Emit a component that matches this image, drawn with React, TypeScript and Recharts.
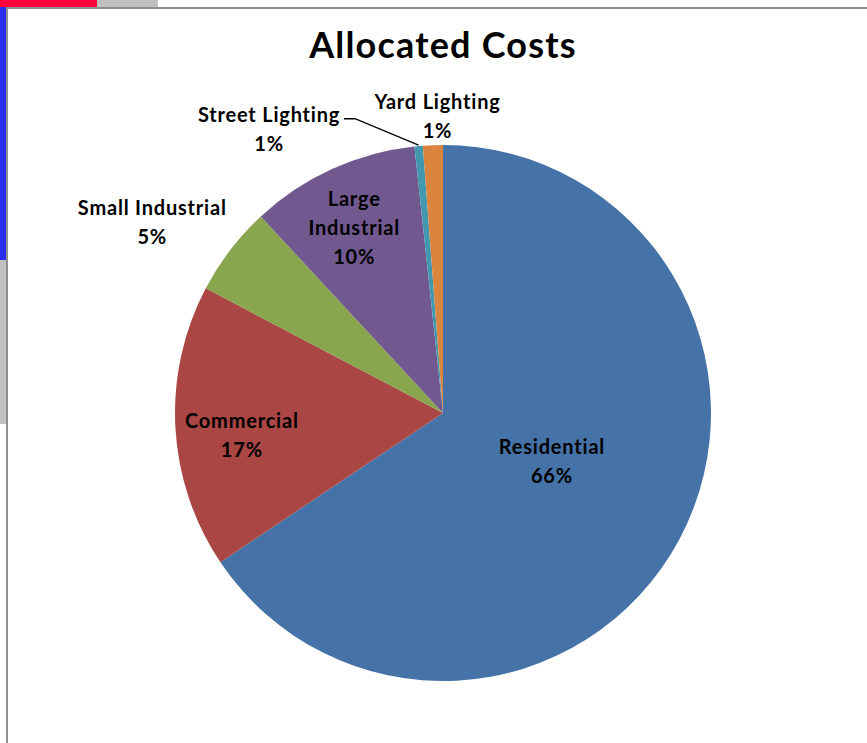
import React from 'react';
import { PieChart, Pie, Cell } from 'recharts';

const categories = [
  'Residential',
  'Commercial',
  'Small Industrial',
  'Large Industrial',
  'Street Lighting',
  'Yard Lighting',
];
const costShares = [65.6, 17.1, 5.4, 10.2, 0.5, 1.2];
const sliceColors = ['#4572A7', '#AA4643', '#89A54E', '#71588F', '#4198AF', '#DB843D'];

// label lines as Excel wrapped them
const labelLines: Record<string, string[]> = {
  'Large Industrial': ['Large', 'Industrial'],
};

// where each label sits: fraction of the radius + angle nudge (deg)
const labelPlacement: Record<string, { ratio: number; shift: number; leader?: boolean }> = {
  Residential: { ratio: 0.443, shift: 4.7 },
  Commercial: { ratio: 0.755, shift: 3.1 },
  'Small Industrial': { ratio: 1.3, shift: 4 },
  'Large Industrial': { ratio: 0.77, shift: 1 },
  'Street Lighting': { ratio: 1.245, shift: 26.2, leader: true },
  'Yard Lighting': { ratio: 1.11, shift: -1.1 },
};

const data = categories.map((name, i) => ({ name, value: costShares[i] }));

const RAD = Math.PI / 180;
const FONT = 'Lato, "Open Sans", sans-serif';

const renderLabel = (props: any) => {
  const { cx, cy, midAngle, outerRadius, percent, name } = props;
  const place = labelPlacement[name];
  const ang = midAngle + place.shift;
  const r = outerRadius * place.ratio;
  const x = cx + r * Math.cos(-ang * RAD);
  const y = cy + r * Math.sin(-ang * RAD);
  const lines = [...(labelLines[name] || [name]), `${Math.round(percent * 100)}%`];
  const lh = 29;
  const y0 = y - ((lines.length - 1) * lh) / 2;
  let leader = null;
  if (place.leader) {
    const ox = cx + (outerRadius + 1) * Math.cos(-midAngle * RAD);
    const oy = cy + (outerRadius + 1) * Math.sin(-midAngle * RAD);
    const ly = y0 + 5;
    leader = (
      <polyline
        points={`${ox},${oy} ${x + 86},${ly} ${x + 75},${ly}`}
        fill="none"
        stroke="#000"
        strokeWidth={1.3}
      />
    );
  }
  return (
    <g>
      {leader}
      <text
        x={x}
        y={y0}
        textAnchor="middle"
        fill="#000"
        fontFamily={FONT}
        fontWeight={700}
        fontSize={20}
        letterSpacing={0.8}
      >
        {lines.map((t, i) => (
          <tspan key={i} x={x} y={y0 + i * lh} dominantBaseline="central">
            {t}
          </tspan>
        ))}
      </text>
    </g>
  );
};

const App = () => {
  return (
    <div style={{ position: 'absolute', left: 0, top: 0, width: 867, height: 743, background: '#fff', overflow: 'hidden' }}>
      <div style={{ position: 'absolute', left: 0, top: 0, width: 97, height: 7, background: '#FF003C' }} />
      <div style={{ position: 'absolute', left: 97, top: 0, width: 61, height: 7, background: '#C0C0C0' }} />
      <div style={{ position: 'absolute', left: 0, top: 7, width: 6, height: 253, background: '#2B2BEE' }} />
      <div style={{ position: 'absolute', left: 0, top: 260, width: 6, height: 164, background: '#C0C0C0' }} />
      <div style={{ position: 'absolute', left: 6, top: 7, width: 861, height: 2, background: '#8E8E8E' }} />
      <div style={{ position: 'absolute', left: 6, top: 7, width: 2, height: 736, background: '#8E8E8E' }} />
      <div
        style={{
          position: 'absolute',
          left: 8,
          top: 24,
          width: 870,
          textAlign: 'center',
          fontFamily: FONT,
          fontWeight: 700,
          fontSize: 36,
          letterSpacing: 1.2,
          lineHeight: '40px',
          color: '#000',
        }}
      >
        Allocated Costs
      </div>
      <div style={{ position: 'absolute', left: 8, top: 9 }}>
        <PieChart width={859} height={734} margin={{ top: 0, right: 0, bottom: 0, left: 0 }}>
          <Pie
            data={data}
            dataKey="value"
            nameKey="name"
            cx={435}
            cy={404}
            outerRadius={268}
            startAngle={90}
            endAngle={-270}
            stroke="none"
            label={renderLabel}
            labelLine={false}
            isAnimationActive={false}
          >
            {data.map((d, i) => (
              <Cell key={d.name} fill={sliceColors[i]} />
            ))}
          </Pie>
        </PieChart>
      </div>
    </div>
  );
};

export default App;
